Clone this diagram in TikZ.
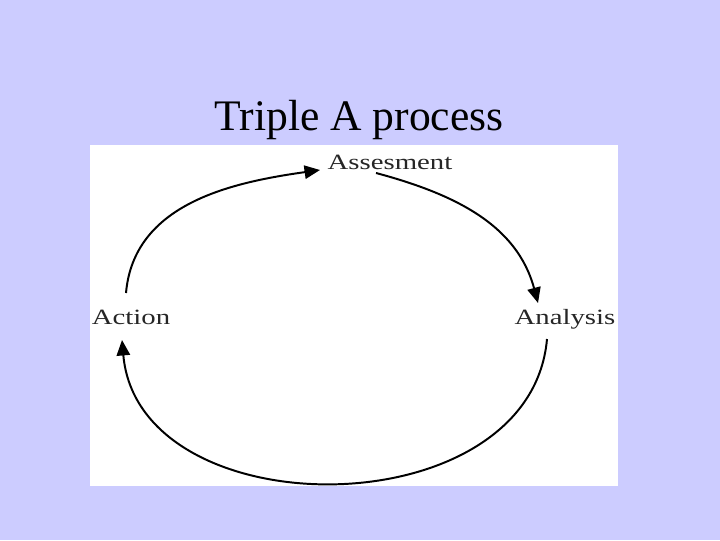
\documentclass[tikz,border=0pt]{standalone}
\usepackage{fontspec}
\setmainfont{Liberation Serif}
\usepackage{tikz}
\usetikzlibrary{arrows.meta, calc}
\definecolor{slidebg}{HTML}{CCCCFF}
\definecolor{inktext}{HTML}{262626}
\tikzstyle{heading} = [font=\fontsize{31}{31}\selectfont, text=black, inner sep=0pt]
\tikzstyle{stage} = [font=\fontsize{15.5}{15.5}\selectfont, text=inktext, xscale=1.32, inner sep=0pt]
\tikzstyle{cyclearrow} = [line width=1.4pt, -{Triangle[length=11pt,width=9.5pt]}, color=black]

\begin{document}
\begin{tikzpicture}[x=0.025cm, y=0.025cm]
    \fill[slidebg] (0,0) rectangle (720,540);
    \fill[white] (90,54) rectangle (618,395);
    \node[heading] (title) at (359,420) {Triple A process};
    \node[stage] (assess) at (390,378) {Assesment};
    \node[stage] (analysis) at (565,221) {Analysis};
    \node[stage] (action) at (131,223) {Action};

    \draw[cyclearrow] ($(action)+(-5,24)$) to[out=85, in=188] ($(assess)+(-70,-8)$);
    \draw[cyclearrow] ($(assess)+(-14,-11)$) to[out=-15, in=105] ($(analysis)+(-27,16)$);
    \draw[cyclearrow] ($(analysis)+(-18,-20)$) to[out=-95, in=-85, looseness=1.15] ($(action)+(-9,-23)$);
\end{tikzpicture}
\end{document}
